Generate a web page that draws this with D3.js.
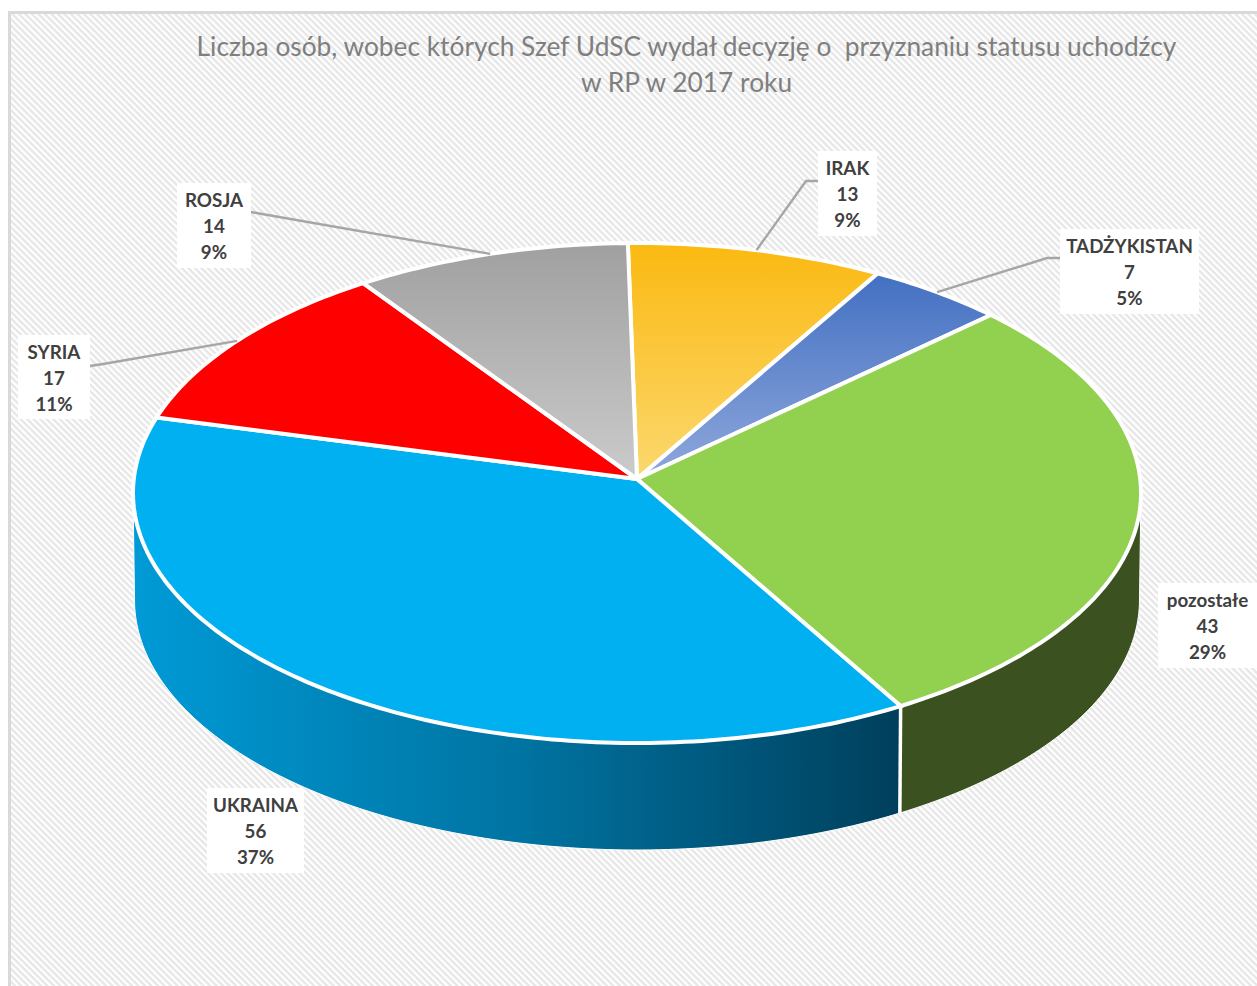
<!DOCTYPE html>
<html><head><meta charset="utf-8"><script src="https://cdn.jsdelivr.net/npm/d3@7"></script>
<style>html,body{margin:0;padding:0;background:#fff;overflow:hidden}svg{display:block}text{white-space:pre}</style></head>
<body><svg id="c" width="1257" height="986"></svg>
<script>
const categories = ["IRAK","TADŻYKISTAN","pozostałe","UKRAINA","SYRIA","ROSJA"];
const values = [13,7,43,56,17,14];
const percents = ["9%","5%","29%","37%","11%","9%"];
const titleLines = ["Liczba osób, wobec których Szef UdSC wydał decyzję o  przyznaniu statusu uchodźcy","w RP w 2017 roku"];

// layout
const labelBoxes = [[818,151,59,85],[1060,229,139,85],[1158,583,99,85],[207,788,97,85],[18,335,72,84],[177,183,74,85]];
const leaderElbows = [[[806,181],[818,181]],[[1047,258],[1060,258]],null,null,[[103,364],[90,366]],[[262,214],[251,212]]];
const topFills = ["url(#gIrak)","url(#gTadz)","#92d050","#00b0f0","#ff0000","url(#gRosja)"];
const wallFills = ["#8a6800","#2a4578","#3b5220","url(#gUkr)","#990000","#666"];
const cx=637, cy=479, a=503.2, b=249.2, p=0.056, depth=107;

const svg=d3.select("#c");
const defs=svg.append("defs");
const pat=defs.append("pattern").attr("id","hatch").attr("patternUnits","userSpaceOnUse")
  .attr("width",4.6).attr("height",4.6).attr("patternTransform","rotate(45)");
pat.append("rect").attr("width",4.6).attr("height",4.6).attr("fill","#fff");
pat.append("rect").attr("width",4.6).attr("height",2.3).attr("fill","#e6e6e6");
function vgrad(id,stops,attrs){
  const g=defs.append("linearGradient").attr("id",id);
  Object.entries(attrs).forEach(([k,v])=>g.attr(k,v));
  stops.forEach(([o,c])=>g.append("stop").attr("offset",o).attr("stop-color",c));
}
const V={x1:0,y1:0,x2:0,y2:1};
vgrad("gIrak",[[0,"#fbb911"],[1,"#fbd86e"]],V);
vgrad("gTadz",[[0,"#4370c2"],[1,"#8fa8dc"]],V);
vgrad("gRosja",[[0,"#a0a0a0"],[1,"#cbcbcb"]],V);
vgrad("gUkr",[[0,"#009ad6"],[0.5,"#0074a2"],[1,"#003f5c"]],{gradientUnits:"userSpaceOnUse",x1:135,y1:0,x2:900,y2:0});

svg.append("rect").attr("x",9.5).attr("y",12.5).attr("width",1260).attr("height",990)
  .attr("fill","url(#hatch)").attr("stroke","#d9d9d9").attr("stroke-width",3);

const pie=d3.pie().sort(null).startAngle(-1.1*Math.PI/180).endAngle((360-1.1)*Math.PI/180);
const arcs=pie(values);
const proj=(t,r=1,dy=0,s=1)=>{const u=r*Math.sin(t),v=r*Math.cos(t),f=1+p*v;return [cx+s*a*u/f,cy-b*v/f+dy];};
const sampleRange=(t0,t1)=>{const n=Math.max(8,Math.ceil((t1-t0)*60));return d3.range(n+1).map(i=>t0+(t1-t0)*i/n);};
const samples=d=>sampleRange(d.startAngle,d.endAngle);
const line=d3.line();

// walls: only the front part of the rim, between the two silhouette tangents
const tangent=Math.acos(-p);
const wallArcs=arcs.map((d,i)=>({i,t0:Math.max(d.startAngle,tangent),t1:Math.min(d.endAngle,2*Math.PI-tangent)})).filter(w=>w.t1>w.t0);
svg.append("g").selectAll("path").data(wallArcs).join("path")
  .attr("d",w=>{const s=sampleRange(w.t0,w.t1);return line([...s.map(t=>proj(t)),...s.slice().reverse().map(t=>proj(t,1,depth,0.997))])+"Z";})
  .attr("fill",w=>wallFills[w.i]).attr("stroke","#fff").attr("stroke-width",1).attr("stroke-linejoin","round");
// wall separator at the front edge between pozostałe and UKRAINA
svg.append("path").attr("d",line([proj(arcs[2].endAngle),proj(arcs[2].endAngle,1,depth,0.997)]))
  .attr("stroke","#fff").attr("stroke-width",3.5).attr("fill","none");
// top faces
svg.append("g").selectAll("path").data(arcs).join("path")
  .attr("d",d=>line([[cx,cy],...samples(d).map(t=>proj(t))])+"Z")
  .attr("fill",(d,i)=>topFills[i]).attr("stroke","#fff").attr("stroke-width",4).attr("stroke-linejoin","miter");

// leaders
svg.append("g").selectAll("path").data(arcs.map((d,i)=>({d,i})).filter(o=>leaderElbows[o.i])).join("path")
  .attr("d",o=>line([proj((o.d.startAngle+o.d.endAngle)/2),...leaderElbows[o.i]]))
  .attr("fill","none").attr("stroke","#a6a6a6").attr("stroke-width",2.4);

// labels
const lab=svg.append("g").selectAll("g").data(categories).join("g");
lab.append("rect").attr("x",(d,i)=>labelBoxes[i][0]).attr("y",(d,i)=>labelBoxes[i][1])
  .attr("width",(d,i)=>labelBoxes[i][2]).attr("height",(d,i)=>labelBoxes[i][3]).attr("fill","#fff");
lab.each(function(d,i){
  const [x,y,w]=labelBoxes[i];
  [d,values[i],percents[i]].forEach((t,j)=>{
    d3.select(this).append("text").attr("x",x+w/2).attr("y",y+23.5+j*26.3).attr("text-anchor","middle")
     .attr("font-family","Lato").attr("font-weight",700).attr("font-size",18.8).attr("fill","#404040").text(t);
  });
});
// title
svg.append("g").selectAll("text").data(titleLines).join("text")
  .attr("x",686.5).attr("y",(d,i)=>56+i*36).attr("text-anchor","middle")
  .attr("font-family","Lato").attr("font-size",26.3).attr("fill","#7f7f7f").text(d=>d);
</script></body></html>
